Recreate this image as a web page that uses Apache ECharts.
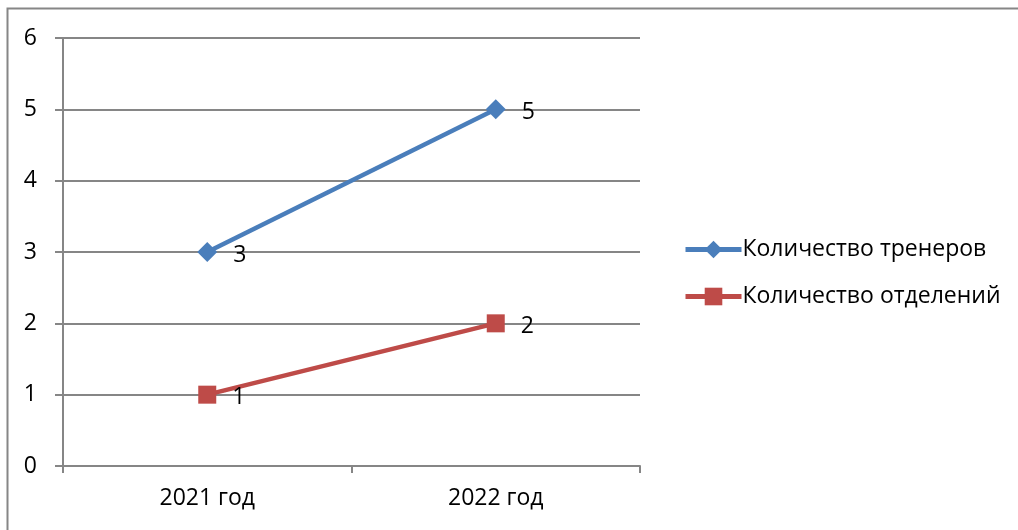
<!DOCTYPE html>
<html><head><meta charset="utf-8">
<script src="https://cdn.jsdelivr.net/npm/echarts@6/dist/echarts.min.js"></script>
<style>html,body{margin:0;padding:0;background:#fff}#c{width:1018px;height:530px}</style>
</head><body><div id="c"></div>
<script>
const categories = ['2021 год', '2022 год'];
const trainers = [3, 5];
const departments = [1, 2];
const seriesNames = ['Количество тренеров', 'Количество отделений'];
const yTicks = [0, 1, 2, 3, 4, 5, 6];

const FONT = 'Open Sans';
const FS = 23;
const chart = echarts.init(document.getElementById('c'), null, {renderer: 'canvas'});
chart.setOption({
  animation: false,
  backgroundColor: '#fff',
  textStyle: {fontFamily: FONT},
  graphic: [{type: 'rect', shape: {x: 7.5, y: 8.5, width: 1030, height: 540},
    style: {fill: 'none', stroke: '#868686', lineWidth: 2}, silent: true}],
  grid: {left: 63, top: 38, width: 577, height: 428},
  legend: {
    orient: 'vertical', left: 678, top: 233, itemWidth: 56, itemHeight: 22, itemGap: 24,
    textStyle: {fontFamily: FONT, fontSize: FS, color: '#000', padding: [0,0,0,-4]},
    lineStyle: {width: 5},
    data: [
      {name: seriesNames[0], itemStyle: {color: '#4A7EBB'}},
      {name: seriesNames[1], itemStyle: {color: '#BE4B48'}}
    ]
  },
  xAxis: {
    type: 'category', data: categories, boundaryGap: true,
    axisLine: {lineStyle: {color: '#868686', width: 2}},
    axisTick: {show: true, length: 7, lineStyle: {color: '#868686', width: 2}},
    axisLabel: {fontFamily: FONT, fontSize: FS, color: '#000', margin: 21}
  },
  yAxis: {
    type: 'value', min: 0, max: 6, interval: 1,
    axisLine: {show: true, lineStyle: {color: '#868686', width: 2}},
    axisTick: {show: true, length: 8, lineStyle: {color: '#868686', width: 2}},
    axisLabel: {fontFamily: FONT, fontSize: FS, color: '#000', margin: 26,
      formatter: v => yTicks.includes(v) ? String(v) : ''},
    splitLine: {lineStyle: {color: '#868686', width: 2}}
  },
  series: [
    {name: seriesNames[0], type: 'line', data: trainers, symbol: 'diamond', symbolSize: 20,
     itemStyle: {color: '#4A7EBB'}, lineStyle: {color: '#4A7EBB', width: 4.5},
     label: {show: true, position: 'right', distance: 16, fontFamily: FONT, fontSize: FS, color: '#000', offset: [0, 3]}},
    {name: seriesNames[1], type: 'line', data: departments, symbol: 'rect', symbolSize: 18,
     itemStyle: {color: '#BE4B48'}, lineStyle: {color: '#BE4B48', width: 4.5},
     label: {show: true, position: 'right', distance: 16, fontFamily: FONT, fontSize: FS, color: '#000', offset: [0, 3]}}
  ]
});
</script></body></html>
